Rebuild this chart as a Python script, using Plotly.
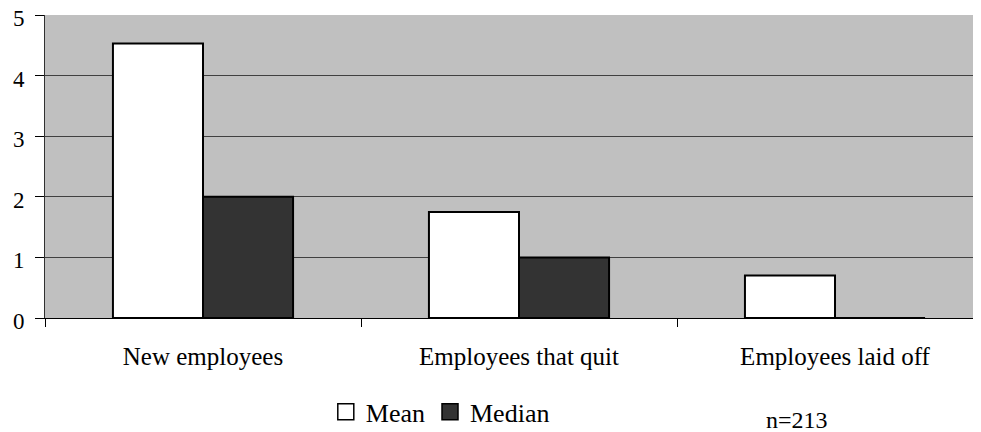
import plotly.graph_objects as go

categories = ["New employees", "Employees that quit", "Employees laid off"]
mean_values = [4.53, 1.75, 0.70]
median_values = [2.0, 1.0, 0.0]
y_ticks = [0, 1, 2, 3, 4, 5]
note_text = "n=213"

FONT = "Liberation Serif, Times New Roman, serif"
MEAN_FILL = "#FFFFFF"
MEDIAN_FILL = "#333333"

fig = go.Figure()
fig.add_trace(go.Bar(
    name="Mean", x=categories, y=mean_values, showlegend=False, legendgroup="mean",
    marker=dict(color=MEAN_FILL, line=dict(color="#000000", width=2)),
))
fig.add_trace(go.Bar(
    name="Median", x=categories, y=median_values, showlegend=False, legendgroup="median",
    marker=dict(color=MEDIAN_FILL, line=dict(color="#000000", width=2)),
))
# legend-only entries with larger square swatches
fig.add_trace(go.Scatter(
    name="Mean", x=[None], y=[None], mode="markers", legendgroup="mean",
    marker=dict(symbol="square", size=16, color=MEAN_FILL,
                line=dict(color="#000000", width=1.5)),
))
fig.add_trace(go.Scatter(
    name="Median", x=[None], y=[None], mode="markers", legendgroup="median",
    marker=dict(symbol="square", size=16, color=MEDIAN_FILL,
                line=dict(color="#000000", width=1.5)),
))

fig.update_layout(
    width=973, height=424,
    margin=dict(l=37, r=0, t=7, b=114, autoexpand=False),
    paper_bgcolor="#FFFFFF",
    plot_bgcolor="#C0C0C0",
    barmode="group",
    bargap=0.43,
    bargroupgap=0,
    font=dict(family=FONT, size=25, color="#000000"),
    showlegend=True,
    legend=dict(
        orientation="h", x=0.30, xanchor="left", y=-0.31, yanchor="middle",
        font=dict(family=FONT, size=26, color="#000000"),
        itemwidth=30, itemsizing="trace", bgcolor="rgba(0,0,0,0)", tracegroupgap=0,
    ),
    xaxis=dict(
        type="category", categoryorder="array", categoryarray=categories,
        range=[-0.5, 2.462],
        tickson="boundaries", ticks="outside", ticklen=8,
        tickcolor="#000000", showline=True, linecolor="#000000", linewidth=1,
        showgrid=False, ticklabelstandoff=16, ticklabeloverflow="allow",
        tickfont=dict(family=FONT, size=25, color="#000000"),
    ),
    yaxis=dict(
        range=[0, 5], tickvals=y_ticks, ticks="outside", ticklen=9,
        tickcolor="#000000", showline=True, linecolor="#303030", linewidth=1,
        showgrid=True, gridcolor="#404040", gridwidth=1, zeroline=False,
        ticklabelstandoff=6, ticklabeloverflow="allow", ticklabelshift=3,
        tickfont=dict(family=FONT, size=23, color="#000000"),
    ),
    annotations=[dict(
        text=note_text, xref="paper", yref="paper", x=0.803, y=-0.335,
        xanchor="center", yanchor="middle", showarrow=False,
        font=dict(family=FONT, size=24, color="#000000"),
    )],
)

fig.write_html("out.html")
